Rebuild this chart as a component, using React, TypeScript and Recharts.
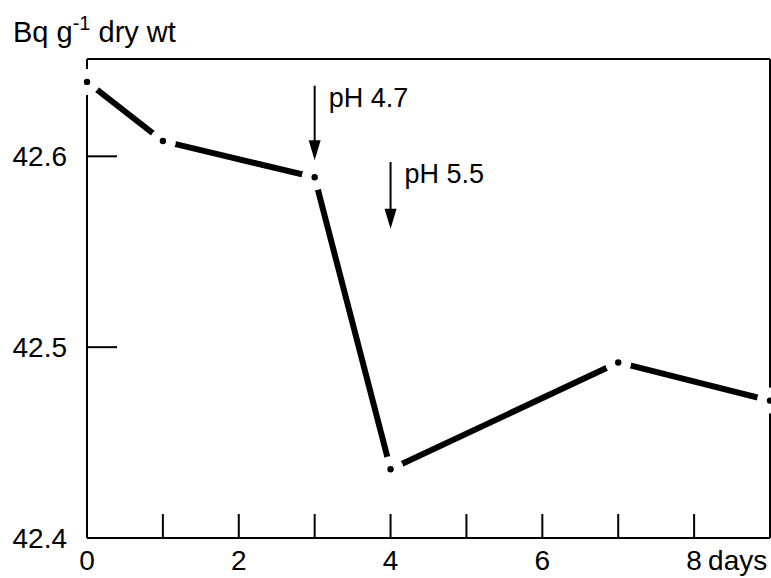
import { LineChart, Line, XAxis, YAxis, ReferenceLine } from "recharts";

// activity in the sample over time (days after start)
const days = [0, 1, 3, 4, 7, 9];
const activity = [42.639, 42.608, 42.589, 42.436, 42.492, 42.472];

const xTicks = [0, 1, 2, 3, 4, 5, 6, 7, 8, 9];
const xLabelled = [0, 2, 4, 6, 8];
const xUnit = "days";
const yTicks = [42.4, 42.5, 42.6];

// pH change markers: day, arrow top, arrow tip, text
const phDays = [3, 4];
const phArrowTop = [42.637, 42.597];
const phArrowTip = [42.598, 42.562];
const phLabels = ["pH 4.7", "pH 5.5"];

const data = days.map((d, i) => ({ day: d, value: activity[i] }));

const FONT = '"Liberation Sans", Arial, Helvetica, sans-serif';

function GapDot(props: any) {
  const { cx, cy, index } = props;
  if (cx == null || cy == null) return null;
  return (
    <g key={`dot-${index}`}>
      <circle cx={cx} cy={cy} r={13} fill="#fff" />
      <circle cx={cx} cy={cy} r={3.2} fill="#000" />
    </g>
  );
}

function XTick(props: any) {
  const { x, y, payload } = props;
  const v = payload.value;
  const showLabel = xLabelled.includes(v);
  return (
    <g>
      {v !== 0 && v !== 9 && <line x1={x} y1={y} x2={x} y2={y - 24} stroke="#000" strokeWidth={2} />}
      {showLabel && (
        <text x={x} y={y + 32} textAnchor="middle" fontSize={28} fontFamily={FONT} fill="#000">
          {v}
        </text>
      )}
      {v === 8 && (
        <text x={x + 14} y={y + 32} textAnchor="start" fontSize={28} fontFamily={FONT} fill="#000">
          {xUnit}
        </text>
      )}
    </g>
  );
}

function YTick(props: any) {
  const { x, y, payload } = props;
  return (
    <g>
      {payload.value !== yTicks[0] && (
        <line x1={x} y1={y} x2={x + 30} y2={y} stroke="#000" strokeWidth={2} />
      )}
      <text x={x - 20} y={y + 10} textAnchor="end" fontSize={28} fontFamily={FONT} fill="#000">
        {payload.value.toFixed(1)}
      </text>
    </g>
  );
}

const arrowShape = (label: string) => (props: any) => {
  const { x1, y1, x2, y2 } = props;
  const top = Math.min(y1, y2);
  const tip = Math.max(y1, y2);
  return (
    <g>
      <line x1={x1} y1={top} x2={x1} y2={tip - 16} stroke="#000" strokeWidth={2} />
      <polygon points={`${x1 - 6},${tip - 20} ${x1 + 6},${tip - 20} ${x1},${tip}`} fill="#000" />
      <text x={x1 + 14} y={top + 21} fontSize={27} fontFamily={FONT} fill="#000">
        {label}
      </text>
    </g>
  );
};

export default function App() {
  return (
    <div style={{ position: "absolute", left: 0, top: 0, width: 771, height: 578, background: "#fff" }}>
      <svg width={771} height={60} style={{ position: "absolute", left: 0, top: 0 }}>
        <text x={13} y={42} fontSize={29} fontFamily={FONT} fill="#000">
          Bq g
          <tspan fontSize={20} dy={-12}>-1</tspan>
          <tspan dy={12}> dry wt</tspan>
        </text>
      </svg>
      <LineChart
        width={771}
        height={578}
        data={data}
        margin={{ top: 59, right: 1, bottom: 0, left: 0 }}
        style={{ position: "absolute", left: 0, top: 0 }}
      >
        <ReferenceLine y={42.651} stroke="#000" strokeWidth={2} />
        <ReferenceLine x={9} stroke="#000" strokeWidth={2} />
        <Line
          dataKey="value"
          type="linear"
          stroke="#000"
          strokeWidth={6}
          dot={<GapDot />}
          activeDot={false}
          isAnimationActive={false}
        />
        {phDays.map((d, i) => (
          <ReferenceLine
            key={phLabels[i]}
            segment={[
              { x: d, y: phArrowTop[i] },
              { x: d, y: phArrowTip[i] },
            ]}
            shape={arrowShape(phLabels[i])}
          />
        ))}
        <XAxis
          dataKey="day"
          type="number"
          domain={[0, 9]}
          ticks={xTicks}
          interval={0}
          height={40}
          tickSize={0}
          tickMargin={0}
          tickLine={false}
          axisLine={{ stroke: "#000", strokeWidth: 2 }}
          tick={<XTick />}
        />
        <YAxis
          type="number"
          domain={[42.4, 42.651]}
          ticks={yTicks}
          width={87}
          tickSize={0}
          tickMargin={0}
          tickLine={false}
          axisLine={{ stroke: "#000", strokeWidth: 2 }}
          tick={<YTick />}
        />
      </LineChart>
    </div>
  );
}
